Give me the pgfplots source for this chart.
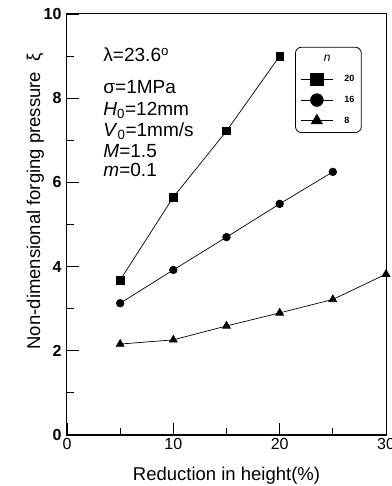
\documentclass[border=0pt]{standalone}
\usepackage{fontspec}
\setmainfont{Liberation Sans}
\usepackage{pgfplots}
\pgfplotsset{compat=1.18}
\begin{document}
\begin{tikzpicture}
\begin{axis}[
  name=ax,
  scale only axis,
  width=319pt, height=421pt,
  xmin=0, xmax=30, ymin=0, ymax=10,
  xtick={0,10,20,30}, ytick={0,2,4,6,8,10},
  minor xtick={5,15,25}, minor ytick={1,3,5,7,9},
  tick pos=left,
  tick align=inside,
  major tick length=12pt, minor tick length=7pt,
  every tick/.style={black, line width=0.9pt},
  axis line style={line width=1pt},
  /pgf/number format/assume math mode=true,
  tick label style={font=\fontsize{16}{18}\selectfont},
  yticklabel style={font=\fontsize{16}{18}\selectfont\bfseries, xshift=-2pt},
  xticklabel style={inner sep=1pt, yshift=-2pt},
  xlabel={Reduction in height(\%)},
  ylabel={Non-dimensional forging pressure\ \ ξ},
  label style={font=\fontsize{18.5}{20}\selectfont},
  xlabel style={at={(axis description cs:0.5,-0.107)}, anchor=base},
  ylabel style={at={(axis description cs:-0.0846,0.195)}, anchor=base west},
  legend style={at={(axis description cs:0.715,0.922)}, anchor=north west,
    rounded corners=6pt, draw=black, line width=0.8pt,
    font=\fontsize{9}{10}\selectfont\bfseries, row sep=8pt,
    inner xsep=5pt, inner ysep=6pt, cells={anchor=west}},
  legend image code/.code={\draw[mark repeat=2,mark phase=2,line width=0.8pt] plot coordinates {(0pt,0pt) (16pt,0pt) (32pt,0pt)};},
  legend image post style={mark size=6.3pt},
  clip=false,
]
\addlegendimage{empty legend}
\addlegendentry{\hspace*{-13pt}\fontsize{12}{12}\selectfont\mdseries\itshape n}
\addplot[black, line width=0.7pt, mark=square*, mark size=3.8pt] coordinates {
  (5,3.68) (10,5.65) (15,7.22) (20,9.0)};
\addlegendentry{\hspace*{9pt}20}
\addplot[black, line width=0.7pt, mark=*, mark size=3.8pt] coordinates {
  (5,3.13) (10,3.92) (15,4.70) (20,5.49) (25,6.25)};
\addlegendentry{\hspace*{9pt}16}
\addplot[black, line width=0.7pt, mark=triangle*, mark size=4.5pt] coordinates {
  (5,2.16) (10,2.26) (15,2.59) (20,2.90) (25,3.22) (30,3.82)};
\addlegendentry{\hspace*{9pt}8}
\node[anchor=base west, font=\fontsize{19}{21}\selectfont] at (axis cs:3.1,8.86) {λ=23.6\textsuperscript{o}};
\node[anchor=base west, font=\fontsize{19}{21}\selectfont] at (axis cs:3.1,8.12) {σ=1MPa};
\node[anchor=base west, font=\fontsize{19}{21}\selectfont] at (axis cs:3.1,7.60) {\textit{H}\textsubscript{0}=12mm};
\node[anchor=base west, font=\fontsize{19}{21}\selectfont] at (axis cs:3.1,7.10) {\textit{V}\textsubscript{0}=1mm/s};
\node[anchor=base west, font=\fontsize{19}{21}\selectfont] at (axis cs:3.1,6.58) {\textit{M}=1.5};
\node[anchor=base west, font=\fontsize{19}{21}\selectfont] at (axis cs:3.1,6.13) {\textit{m}=0.1};
\end{axis}
\pgfresetboundingbox
\path (ax.south west) ++(-67pt,-51pt) rectangle ++(391pt,486pt);
\end{tikzpicture}
\end{document}
